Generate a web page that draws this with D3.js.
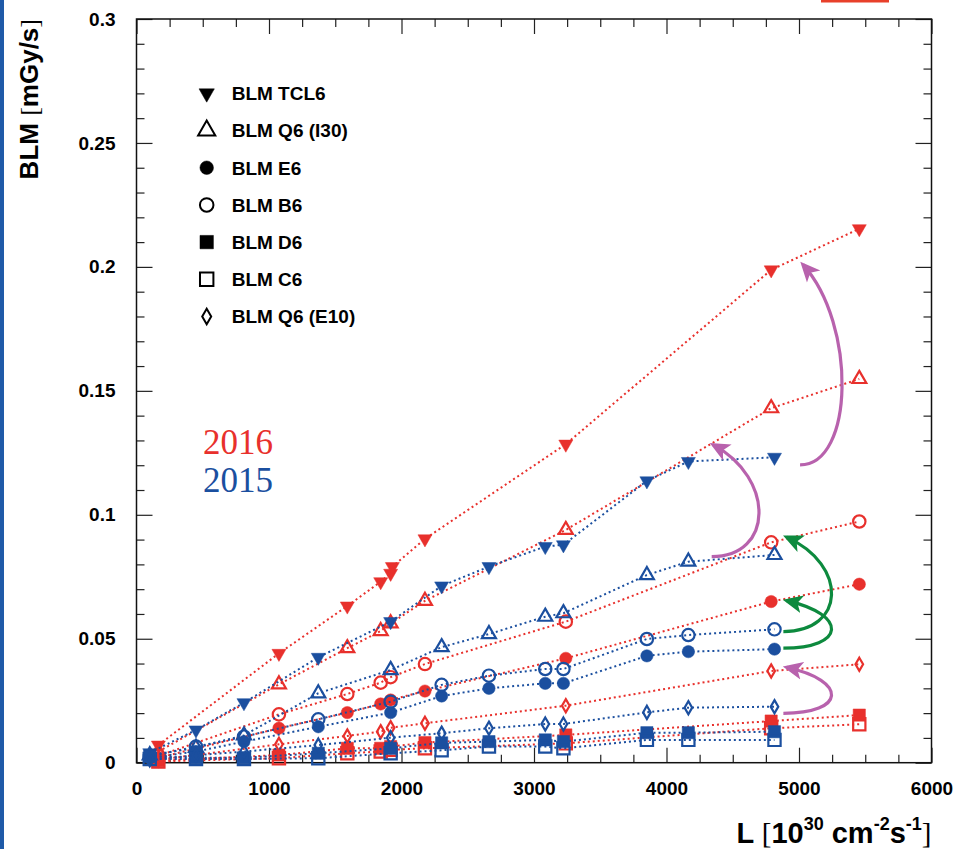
<!DOCTYPE html>
<html>
<head>
<meta charset="utf-8">
<title>BLM vs luminosity</title>
<script src="https://d3js.org/d3.v7.min.js"></script>
<style>
  body { margin: 0; background: #fff; }
  svg { display: block; font-family: "Liberation Sans", Arial, sans-serif; }
</style>
</head>
<body>
<div id="chart"></div>
<script>
// ---- data ----
const seriesNames = ["BLM TCL6", "BLM Q6 (I30)", "BLM E6", "BLM B6", "BLM D6", "BLM C6", "BLM Q6 (E10)"];
const seriesSymbols = ["tdown", "tup", "circle", "circle", "square", "square", "diamond"];
const seriesFilled = [true, false, true, false, true, false, false];

// 2016 (red)
const lumi2016 = [165, 1075, 1591, 1843, 1918, 1931, 2177, 3240, 4790, 5455];
const tcl6_2016  = [0.0071, 0.0441, 0.0632, 0.0730, 0.0764, 0.0791, 0.0903, 0.1285, 0.1988, 0.2154];
const q6i30_2016 = [0.0045, 0.0316, 0.0462, 0.0531, 0.0562, null, 0.0653, 0.0939, 0.1430, 0.1548];
const e6_2016    = [0.0020, 0.0139, 0.0202, 0.0237, 0.0253, null, 0.0289, 0.0421, 0.0650, 0.0720];
const b6_2016    = [0.0028, 0.0195, 0.0277, 0.0323, 0.0345, null, 0.0398, 0.0569, 0.0889, 0.0973];
const d6_2016    = [0.0008, 0.0031, 0.0058, 0.0058, 0.0065, null, 0.0081, 0.0112, 0.0168, 0.0192];
const c6_2016    = [0.0005, 0.0018, 0.0038, 0.0045, 0.0052, null, 0.0058, 0.0078, 0.0139, 0.0155];
const e10_2016   = [0.0012, 0.0074, 0.0108, 0.0125, 0.0141, null, 0.0159, 0.0230, 0.0370, 0.0397];

// 2015 (blue)
const lumi2015 = [100, 449, 811, 1372, 1918, 2303, 2660, 3085, 3222, 3852, 4165, 4815];
const tcl6_2015  = [0.0040, 0.0132, 0.0242, 0.0425, 0.0569, 0.0713, 0.0791, 0.0872, 0.0879, 0.1137, 0.1215, 0.1232];
const q6i30_2015 = [0.0030, 0.0060, 0.0110, 0.0280, 0.0374, 0.0466, 0.0519, 0.0589, 0.0603, 0.0757, 0.0811, 0.0838];
const e6_2015    = [0.0020, 0.0045, 0.0085, 0.0145, 0.0202, 0.0269, 0.0300, 0.0320, 0.0320, 0.0431, 0.0448, 0.0458];
const b6_2015    = [0.0025, 0.0065, 0.0105, 0.0175, 0.0246, 0.0314, 0.0351, 0.0378, 0.0378, 0.0499, 0.0515, 0.0538];
const d6_2015    = [0.0025, 0.0020, 0.0020, 0.0038, 0.0058, 0.0080, 0.0085, 0.0092, 0.0085, 0.0121, 0.0121, 0.0125];
const c6_2015    = [0.0015, 0.0015, 0.0015, 0.0018, 0.0038, 0.0050, 0.0065, 0.0065, 0.0058, 0.0092, 0.0092, 0.0092];
const e10_2015   = [0.0012, 0.0030, 0.0045, 0.0071, 0.0101, 0.0119, 0.0139, 0.0156, 0.0156, 0.0203, 0.0222, 0.0226];

// annotation arrows (2015 -> 2016), in data units
const arrowFrom = [[5008, 0.1201], [4341, 0.0831], [4882, 0.0529], [4882, 0.0462], [4882, 0.0199]];
const arrowTo   = [[5030, 0.2009], [4353, 0.1282], [4907, 0.0910], [4907, 0.0654], [4907, 0.0385]];
const arrowKind = ["purple", "purple", "green", "green", "purple"];

const xMajor = [0, 1000, 2000, 3000, 4000, 5000, 6000];
const yMajor = [0, 0.05, 0.1, 0.15, 0.2, 0.25, 0.3];
const yLabels = ["0", "0.05", "0.1", "0.15", "0.2", "0.25", "0.3"];

// ---- setup ----
const W = 957, H = 849;
const RED = "#e8302c", BLUE = "#1b4f9f";
const arrowColors = { purple: "#b862ad", green: "#0d8a3e" };

const svg = d3.select("#chart").append("svg")
  .attr("width", W).attr("height", H);

svg.append("rect").attr("width", W).attr("height", H).attr("fill", "#fff");
// page decorations
svg.append("rect").attr("x", 0).attr("y", 0).attr("width", 4).attr("height", H).attr("fill", "#1f5aa8");
svg.append("rect").attr("x", 821).attr("y", 0).attr("width", 68).attr("height", 2.5).attr("fill", "#e8402a");

const x = d3.scaleLinear().domain([0, 6000]).range([136.5, 931.5]);
const y = d3.scaleLinear().domain([0, 0.3]).range([762.7, 19]);

const xMinor = d3.range(0, 6001, 250).filter(v => v % 1000 !== 0);
const yMinor = d3.range(0, 31).map(i => i / 100).filter((v, i) => i % 5 !== 0);

// axes
function noDomain(g) { g.select(".domain").remove(); }
const tickStyle = g => g.selectAll("line").attr("stroke", "#222").attr("stroke-width", 1.2);

svg.append("g").attr("transform", `translate(0,${y.range()[0]})`)
  .call(d3.axisBottom(x).tickValues(xMajor).tickSize(-15).tickPadding(19).tickFormat(d3.format("d")))
  .call(noDomain).call(tickStyle)
  .selectAll("text").attr("font-size", 19).attr("font-weight", "bold").attr("fill", "#000");
svg.append("g").attr("transform", `translate(0,${y.range()[0]})`)
  .call(d3.axisBottom(x).tickValues(xMinor).tickSize(-8).tickFormat(""))
  .call(noDomain).call(tickStyle);
svg.append("g").attr("transform", `translate(0,${y.range()[1]})`)
  .call(d3.axisTop(x).tickValues(xMajor).tickSize(-15).tickFormat(""))
  .call(noDomain).call(tickStyle);
svg.append("g").attr("transform", `translate(0,${y.range()[1]})`)
  .call(d3.axisTop(x).tickValues(xMinor).tickSize(-8).tickFormat(""))
  .call(noDomain).call(tickStyle);

svg.append("g").attr("transform", `translate(${x.range()[0]},0)`)
  .call(d3.axisLeft(y).tickValues(yMajor).tickSize(-16).tickPadding(21).tickFormat((d, i) => yLabels[i]))
  .call(noDomain).call(tickStyle)
  .selectAll("text").attr("font-size", 19).attr("font-weight", "bold").attr("fill", "#000");
svg.append("g").attr("transform", `translate(${x.range()[0]},0)`)
  .call(d3.axisLeft(y).tickValues(yMinor).tickSize(-8).tickFormat(""))
  .call(noDomain).call(tickStyle);
svg.append("g").attr("transform", `translate(${x.range()[1]},0)`)
  .call(d3.axisRight(y).tickValues(yMajor).tickSize(-16).tickFormat(""))
  .call(noDomain).call(tickStyle);
svg.append("g").attr("transform", `translate(${x.range()[1]},0)`)
  .call(d3.axisRight(y).tickValues(yMinor).tickSize(-8).tickFormat(""))
  .call(noDomain).call(tickStyle);

// frame
svg.append("rect")
  .attr("x", x.range()[0]).attr("y", y.range()[1])
  .attr("width", x.range()[1] - x.range()[0]).attr("height", y.range()[0] - y.range()[1])
  .attr("fill", "none").attr("stroke", "#111").attr("stroke-width", 1.5);

// axis titles
const yt = svg.append("text")
  .attr("transform", `translate(38,${y.range()[1]}) rotate(-90)`)
  .attr("text-anchor", "end").attr("font-size", 26).attr("font-weight", "bold");
yt.append("tspan").text("BLM ");
yt.append("tspan").attr("font-weight", "normal").attr("font-family", "Liberation Serif").text("[");
yt.append("tspan").text("mGy/s");
yt.append("tspan").attr("font-weight", "normal").attr("font-family", "Liberation Serif").text("]");

const xt = svg.append("text")
  .attr("x", x.range()[1]).attr("y", 843)
  .attr("text-anchor", "end").attr("font-size", 29).attr("font-weight", "bold");
xt.append("tspan").text("L ");
xt.append("tspan").attr("font-weight", "normal").attr("font-family", "Liberation Serif").text("[");
xt.append("tspan").text("10");
xt.append("tspan").attr("font-size", 18).attr("dy", -13).text("30");
xt.append("tspan").attr("dy", 13).text(" cm");
xt.append("tspan").attr("font-size", 18).attr("dy", -13).text("-2");
xt.append("tspan").attr("dy", 13).text("s");
xt.append("tspan").attr("font-size", 18).attr("dy", -13).text("-1");
xt.append("tspan").attr("dy", 13).attr("font-weight", "normal").attr("font-family", "Liberation Serif").text("]");

// markers
function markerPath(kind, scale) {
  const s = scale || 1;
  if (kind === "tdown" || kind === "tup") return d3.symbol().type(d3.symbolTriangle).size(85 * s)();
  if (kind === "circle") return d3.symbol().type(d3.symbolCircle).size(120 * s)();
  if (kind === "square") return d3.symbol().type(d3.symbolSquare).size(150 * s)();
  return d3.symbol().type(d3.symbolDiamond).size(50 * s)();
}
function markerTransform(kind, px, py) {
  return `translate(${px},${py})` + (kind === "tdown" ? " rotate(180)" : "");
}

const line = d3.line().x(d => x(d[0])).y(d => y(d[1]));

function drawYear(lumi, values, color) {
  const g = svg.append("g");
  const sets = values.map(vals => lumi.map((l, i) => [l, vals[i]]).filter(d => d[1] != null));
  sets.forEach(pts => {
    g.append("path").datum(pts).attr("d", line)
      .attr("fill", "none").attr("stroke", color)
      .attr("stroke-width", 2).attr("stroke-dasharray", "2,3");
  });
  sets.forEach((pts, si) => {
    const kind = seriesSymbols[si];
    g.selectAll(null).data(pts).join("path")
      .attr("d", markerPath(kind))
      .attr("transform", d => markerTransform(kind, x(d[0]), y(d[1])))
      .attr("fill", seriesFilled[si] ? color : "none")
      .attr("stroke", color)
      .attr("stroke-width", seriesFilled[si] ? 0.5 : 2.2);
  });
}

drawYear(lumi2016, [tcl6_2016, q6i30_2016, e6_2016, b6_2016, d6_2016, c6_2016, e10_2016], RED);
drawYear(lumi2015, [tcl6_2015, q6i30_2015, e6_2015, b6_2015, d6_2015, c6_2015, e10_2015], BLUE);

// arrows
const defs = svg.append("defs");
Object.entries(arrowColors).forEach(([k, c]) => {
  defs.append("marker").attr("id", "head-" + k)
    .attr("viewBox", "0 0 10 10").attr("refX", 8).attr("refY", 5)
    .attr("markerUnits", "userSpaceOnUse").attr("markerWidth", 20).attr("markerHeight", 20)
    .attr("orient", "auto")
    .append("path").attr("d", "M0,0.5L10,5L0,9.5L2.5,5z").attr("fill", c);
});
arrowFrom.forEach((s, i) => {
  const sx = x(s[0]), sy = y(s[1]);
  const ex = x(arrowTo[i][0]), ey = y(arrowTo[i][1]);
  const h = sy - ey;
  const b = i === 0 ? 54 : 62;
  const p = d3.path();
  p.moveTo(sx, sy);
  p.bezierCurveTo(sx + b, sy, ex + b, ey + 0.3 * h, ex, ey);
  svg.append("path").attr("d", p.toString())
    .attr("fill", "none").attr("stroke", arrowColors[arrowKind[i]])
    .attr("stroke-width", 3.2)
    .attr("marker-end", `url(#head-${arrowKind[i]})`);
});

// year labels
svg.append("text").attr("x", 203).attr("y", 454).attr("font-family", "Liberation Serif")
  .attr("font-size", 35).attr("fill", RED).text("2016");
svg.append("text").attr("x", 203).attr("y", 492).attr("font-family", "Liberation Serif")
  .attr("font-size", 35).attr("fill", BLUE).text("2015");

// legend
const lg = svg.append("g");
seriesNames.forEach((name, i) => {
  const ly = 93.3 + i * 37.2;
  const kind = seriesSymbols[i];
  const sc = kind === "tup" ? 1.5 : kind === "diamond" ? 1.4 : 1.2;
  lg.append("path").attr("d", markerPath(kind, sc))
    .attr("transform", markerTransform(kind, 206.7, ly))
    .attr("fill", seriesFilled[i] ? "#000" : "none")
    .attr("stroke", "#000").attr("stroke-width", seriesFilled[i] ? 0.5 : 2);
  lg.append("text").attr("x", 231.7).attr("y", ly).attr("dy", "0.36em")
    .attr("font-size", 19).attr("font-weight", "bold").text(name);
});
</script>
</body>
</html>
